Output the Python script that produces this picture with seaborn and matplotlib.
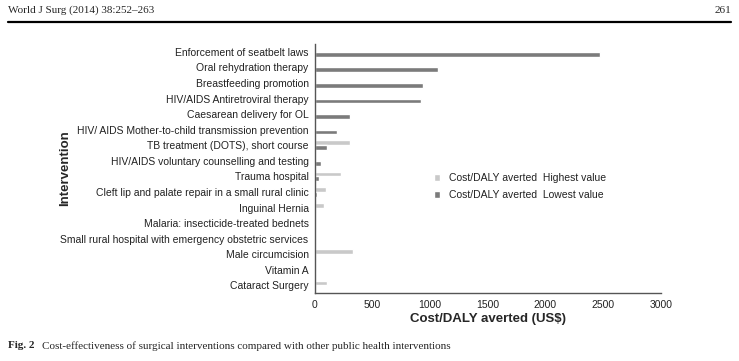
import matplotlib
matplotlib.use("Agg")
import matplotlib.pyplot as plt
import seaborn as sns
import pandas as pd

interventions = [
    "Enforcement of seatbelt laws",
    "Oral rehydration therapy",
    "Breastfeeding promotion",
    "HIV/AIDS Antiretroviral therapy",
    "Caesarean delivery for OL",
    "HIV/ AIDS Mother-to-child transmission prevention",
    "TB treatment (DOTS), short course",
    "HIV/AIDS voluntary counselling and testing",
    "Trauma hospital",
    "Cleft lip and palate repair in a small rural clinic",
    "Inguinal Hernia",
    "Malaria: insecticide-treated bednets",
    "Small rural hospital with emergency obstetric services",
    "Male circumcision",
    "Vitamin A",
    "Cataract Surgery",
]
highest_value = [0, 0, 0, 0, 0, 0, 306, 0, 225, 101, 84, 0, 0, 327, 0, 110]
lowest_value = [2470, 1070, 935, 925, 305, 195, 104, 52, 35, 15, 12, 10, 9, 10, 8, 8]
series_labels = ["Cost/DALY averted  Highest value", "Cost/DALY averted  Lowest value"]

df = pd.DataFrame({
    "Intervention": interventions * 2,
    "Value": highest_value + lowest_value,
    "Series": [series_labels[0]] * len(interventions) + [series_labels[1]] * len(interventions),
})

sns.set_theme(style="white")
plt.rcParams["font.family"] = ["Liberation Sans", "DejaVu Sans"]

fig = plt.figure(figsize=(7.39, 3.61), dpi=100)
ax = fig.add_axes([0.426, 0.188, 0.468, 0.69])

sns.barplot(data=df, x="Value", y="Intervention", hue="Series", hue_order=series_labels,
            order=interventions, palette=["#c9c9c9", "#7b7b7b"], orient="h",
            width=0.62, ax=ax, legend=True, saturation=1)

ax.set_xlim(0, 3000)
ax.set_xticks([0, 500, 1000, 1500, 2000, 2500, 3000])
ax.tick_params(axis="x", labelsize=7.5, length=3, width=0.8, colors="#555555", pad=2)
for t in ax.get_xticklabels():
    t.set_color("#222222")
ax.tick_params(axis="y", labelsize=7.5, length=1.5, colors="#555555", pad=3)
for t in ax.get_yticklabels():
    t.set_color("#222222")
ax.set_xlabel("Cost/DALY averted (US$)", fontsize=9.5, fontweight="bold", labelpad=2)
ax.set_ylabel("")
fig.text(0.088, 0.535, "Intervention", rotation=90, fontsize=9.5, fontweight="bold",
         ha="center", va="center")

for s in ["top", "right"]:
    ax.spines[s].set_visible(False)
for s in ["left", "bottom"]:
    ax.spines[s].set_color("#555555")
    ax.spines[s].set_linewidth(1.0)

leg = ax.legend(loc="upper left", bbox_to_anchor=(0.318, 0.52), frameon=False, fontsize=7.5,
                handlelength=0.6, handleheight=0.6, handletextpad=0.8, labelspacing=0.7)
for t in leg.get_texts():
    t.set_color("#222222")

serif = ["Liberation Serif", "DejaVu Serif"]
fig.text(0.011, 0.972, "World J Surg (2014) 38:252\u2013263", family=serif, fontsize=8, va="center")
fig.text(0.989, 0.972, "261", family=serif, fontsize=8, va="center", ha="right")
fig.add_artist(plt.Line2D([0.011, 0.989], [0.939, 0.939], color="black", linewidth=1.6,
                          transform=fig.transFigure))
fig.text(0.011, 0.042, "Fig. 2", family=serif, fontsize=8, fontweight="bold", va="center")
fig.text(0.057, 0.042, "Cost-effectiveness of surgical interventions compared with other public health interventions",
         family=serif, fontsize=8, va="center")

fig.savefig("out.png", dpi=100)
